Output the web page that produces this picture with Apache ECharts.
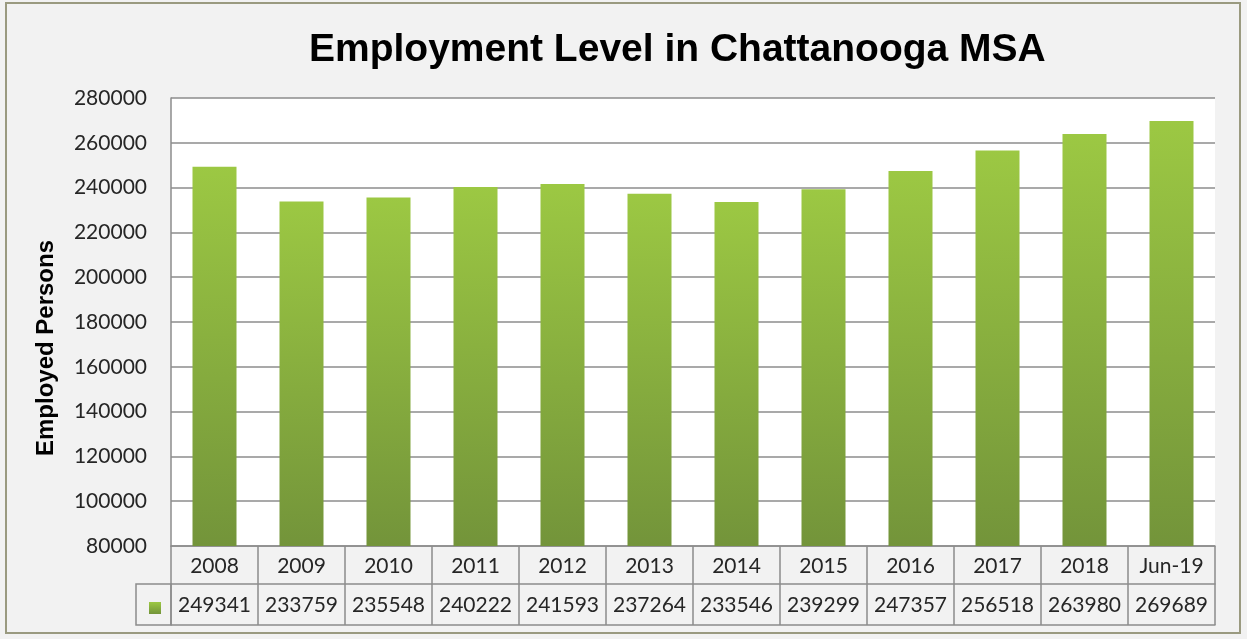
<!DOCTYPE html>
<html><head><meta charset="utf-8">
<script src="https://cdn.jsdelivr.net/npm/echarts@6/dist/echarts.min.js"></script>
<style>html,body{margin:0;padding:0;background:#fff}#c{width:1247px;height:639px}</style>
</head><body><div id="c"></div>
<script>
const categories = ['2008','2009','2010','2011','2012','2013','2014','2015','2016','2017','2018','Jun-19'];
const employed = [249341,233759,235548,240222,241593,237264,233546,239299,247357,256518,263980,269689];
const yTicks = {min:80000, max:280000, interval:20000};

const chart = echarts.init(document.getElementById('c'), null, {renderer:'canvas'});
const lab = {fontFamily:'Lato', fontSize:21, color:'#262626'};
const border = {color:'#8c8c8c', width:1.5};
chart.setOption({
  backgroundColor:'#f2f2f2',
  animation:false,
  title:{text:'Employment Level in Chattanooga MSA', left:304, top:26,
    textStyle:{fontFamily:'Liberation Sans', fontWeight:'bold', fontSize:39, color:'#000'}},
  legend:{show:true, left:144, top:597, itemWidth:12, itemHeight:12, formatter:()=>'', data:[{name:'Employed', icon:'rect'}]},
  grid:{left:171, right:32, top:98, bottom:93, show:true, backgroundColor:'#fff', borderWidth:0},
  xAxis:[
    {type:'category', data:categories, position:'bottom',
     axisLine:{show:true, lineStyle:border}, axisTick:{show:true, interval:0, length:38, lineStyle:border},
     axisLabel:Object.assign({margin:10, interval:0}, lab)},
    {type:'category', data:categories, position:'bottom', offset:38,
     axisLine:{show:true, lineStyle:border}, axisTick:{show:true, interval:0, length:41, lineStyle:border},
     axisLabel:Object.assign({margin:11, interval:0, formatter:(v,i)=>String(employed[i])}, lab)},
    {type:'category', data:categories, position:'bottom', offset:79,
     axisLine:{show:true, lineStyle:border}, axisTick:{show:false}, axisLabel:{show:false}}
  ],
  yAxis:{type:'value', min:yTicks.min, max:yTicks.max, interval:yTicks.interval,
    name:'Employed Persons', nameLocation:'middle', nameGap:113,
    nameTextStyle:{fontFamily:'Liberation Sans', fontWeight:'bold', fontSize:24, color:'#000', padding:[0,52,0,0]},
    axisLine:{show:true, lineStyle:border}, axisTick:{show:false},
    axisLabel:Object.assign({margin:24, formatter:v=>String(v)}, lab),
    splitLine:{lineStyle:{color:'#8c8c8c', width:1.5}}},
  series:[{name:'Employed', type:'bar', data:employed, barWidth:44, xAxisIndex:0,
    itemStyle:{color:new echarts.graphic.LinearGradient(0,0,0,1,[{offset:0,color:'#9cc843'},{offset:1,color:'#73943a'}])}}],
  graphic:[
    {type:'rect', shape:{x:136, y:584, width:35, height:41}, style:{fill:'none', stroke:'#8c8c8c', lineWidth:1.5}, z:-1},
    {type:'rect', shape:{x:6, y:3, width:1234, height:630}, style:{fill:'none', stroke:'#9a9a80', lineWidth:2}}
  ]
});
</script></body></html>
